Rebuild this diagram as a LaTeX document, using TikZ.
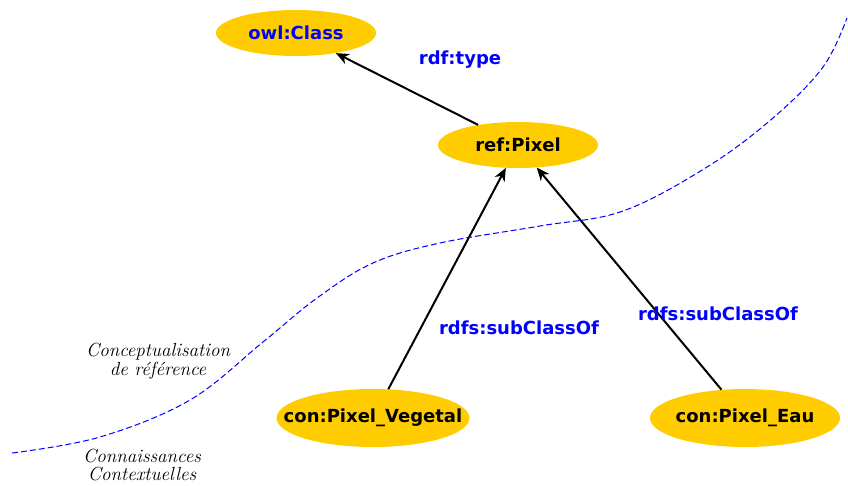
\documentclass[tikz,border=0pt]{standalone}
\usepackage{fontspec}
\newfontfamily\dejavu{DejaVu Sans}
\usetikzlibrary{shapes.geometric,arrows.meta}
\definecolor{gold}{RGB}{255,204,0}
\newcommand{\zw}[1]{\makebox[0pt]{#1}}
\begin{document}
\begin{tikzpicture}[x=1pt,y=-1pt,
  cls/.style={ellipse,fill=gold,inner sep=0pt,font=\dejavu\bfseries\fontsize{18pt}{20pt}\selectfont,text=black},
  rel/.style={font=\dejavu\bfseries\fontsize{18pt}{20pt}\selectfont,text=blue},
  note/.style={font=\itshape\fontsize{19pt}{18.5pt}\selectfont,align=center},
  arr/.style={line width=2pt,-{Stealth[length=13pt,width=11pt,inset=4pt]}}]
\useasboundingbox (0,0) rectangle (848,485);
\node[cls,minimum width=160pt,minimum height=46pt,text=blue] (owl) at (296,33) {\zw{owl:Class}};
\node[cls,minimum width=160pt,minimum height=46pt] (ref) at (518,145) {\zw{ref:Pixel}};
\node[cls,minimum width=193pt,minimum height=58pt] (veg) at (373,418) {\zw{con:Pixel\_Vegetal}};
\node[cls,minimum width=190pt,minimum height=58pt] (eau) at (745,418) {\zw{con:Pixel\_Eau}};
\draw[arr] (ref) -- (owl);
\draw[arr] (veg) -- (ref);
\draw[arr] (eau) -- (ref);
\node[rel] (l1) at (460,60) {rdf:type};
\node[rel] (l2) at (519,328) {rdfs:subClassOf};
\node[rel] (l3) at (718,314) {rdfs:subClassOf};
\node[note] (n1) at (158,361) {Conceptualisation\\de référence};
\node[note] (n2) at (142,465) {Connaissances\\Contextuelles};
\draw[blue,line width=1pt,dash pattern=on 6pt off 3pt] plot[smooth,tension=0.6] coordinates
 {(12,453) (100,437) (190,400) (263,342) (317,298) (373,263) (440,243) (540,226) (623,211) (707,167) (773,118) (823,67) (847,18)};
\end{tikzpicture}
\end{document}
